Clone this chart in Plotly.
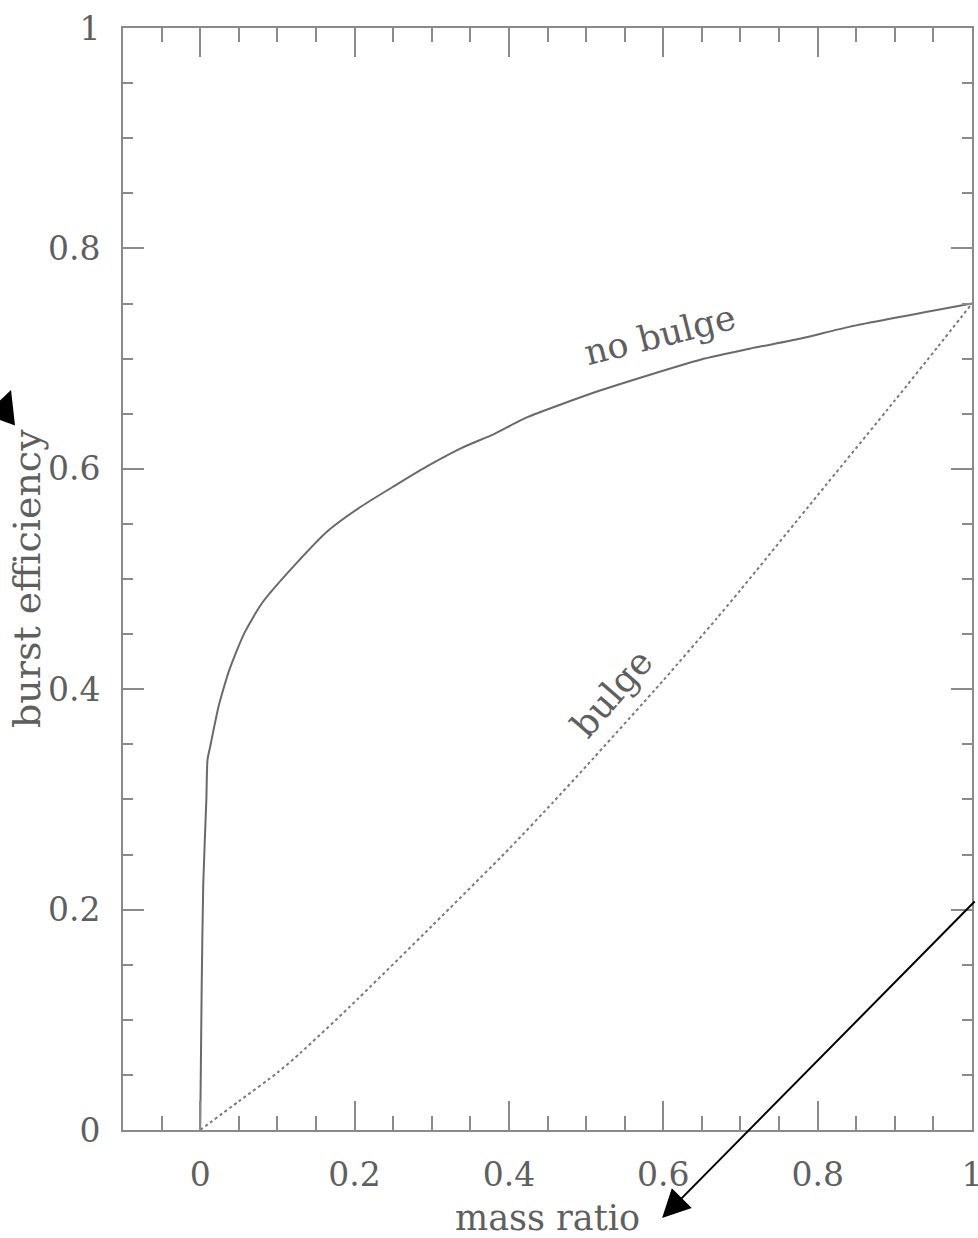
import plotly.graph_objects as go

# Burst efficiency versus merger mass ratio
nobulge_x = [0, 0.002, 0.004, 0.008, 0.0095, 0.013, 0.017, 0.024, 0.030, 0.037,
             0.048, 0.058, 0.080, 0.123, 0.166, 0.209, 0.253, 0.296, 0.339,
             0.382, 0.421, 0.518, 0.648, 0.712, 0.777, 0.842, 1.0]
nobulge_y = [0, 0.133, 0.224, 0.300, 0.336, 0.348, 0.362, 0.385, 0.400, 0.416,
             0.436, 0.452, 0.478, 0.513, 0.544, 0.566, 0.585, 0.603, 0.619,
             0.632, 0.646, 0.671, 0.699, 0.709, 0.718, 0.729, 0.750]

bulge_x = [0, 0.05, 0.1, 0.13, 0.194, 0.3, 0.4, 0.458, 0.5, 0.6, 0.669, 0.7,
           0.8, 0.9, 0.956, 1.0]
bulge_y = [0, 0.026, 0.052, 0.070, 0.112, 0.185, 0.255, 0.298, 0.330, 0.408,
           0.464, 0.490, 0.576, 0.662, 0.711, 0.750]

x_ticks = [0, 0.2, 0.4, 0.6, 0.8, 1]
x_tick_text = ["0", "0.2", "0.4", "0.6", "0.8", "1"]
y_ticks = [0, 0.2, 0.4, 0.6, 0.8, 1]
y_tick_text = ["0", "0.2", "0.4", "0.6", "0.8", "1"]

FONT = "DejaVu Serif"
AXIS_GREY = "#8a8a8a"
TEXT_GREY = "#5f5f5f"

fig = go.Figure()
fig.add_trace(go.Scatter(x=nobulge_x, y=nobulge_y, mode="lines",
                         line=dict(color="#6a6a6a", width=2,
                                   shape="spline", smoothing=0.6),
                         showlegend=False, hoverinfo="skip"))
fig.add_trace(go.Scatter(x=bulge_x, y=bulge_y, mode="lines",
                         line=dict(color="#7a7a7a", width=2, dash="dot",
                                   shape="spline", smoothing=0.6),
                         showlegend=False, hoverinfo="skip"))

axis_common = dict(showline=True, linecolor=AXIS_GREY, linewidth=2,
                   mirror="allticks", ticks="inside", tickcolor=AXIS_GREY,
                   tickwidth=1.5, showgrid=False, zeroline=False,
                   ticklabeloverflow="allow", automargin=False,
                   tickfont=dict(family=FONT, size=33, color=TEXT_GREY))

fig.update_xaxes(range=[-0.1, 1], tickvals=x_ticks, ticktext=x_tick_text,
                 ticklen=29, ticklabelstandoff=14,
                 minor=dict(dtick=0.05, tick0=0, ticks="inside", ticklen=14,
                            tickcolor=AXIS_GREY, tickwidth=1.5, showgrid=False),
                 **axis_common)
fig.update_yaxes(range=[0, 1], tickvals=y_ticks, ticktext=y_tick_text,
                 ticklen=21, ticklabelstandoff=14,
                 minor=dict(dtick=0.05, tick0=0, ticks="inside", ticklen=10,
                            tickcolor=AXIS_GREY, tickwidth=1.5, showgrid=False),
                 **axis_common)

annotations = [
    dict(text="no bulge", x=0.596, y=0.721, xref="x", yref="y",
         textangle=-14, showarrow=False,
         font=dict(family=FONT, size=35, color=TEXT_GREY)),
    dict(text="bulge", x=0.533, y=0.396, xref="x", yref="y",
         textangle=-49, showarrow=False,
         font=dict(family=FONT, size=36, color=TEXT_GREY)),
    dict(text="mass ratio", x=0.5, y=0, xref="paper", yref="paper",
         xanchor="center", yanchor="middle", yshift=-88, showarrow=False,
         font=dict(family=FONT, size=35, color=TEXT_GREY)),
    dict(text="burst efficiency", x=0, y=0.5, xref="paper", yref="paper",
         xanchor="center", yanchor="middle", xshift=-96, textangle=-90,
         showarrow=False,
         font=dict(family=FONT, size=38, color=TEXT_GREY)),
    # pointer towards the x-axis title
    dict(text="", x=0.635, y=-0.0799, xref="paper", yref="paper",
         showarrow=True, arrowhead=2, arrowsize=2.8, arrowwidth=2,
         arrowcolor="black", ax=314, ay=-318),
    # pointer towards the y-axis title, mostly beyond the left edge
    dict(text="", x=-0.1319, y=0.6715, xref="paper", yref="paper",
         showarrow=True, arrowhead=2, arrowsize=3.2, arrowwidth=2,
         arrowcolor="black", ax=-70, ay=30),
]

fig.update_layout(width=978, height=1238,
                  margin=dict(l=123, r=6, t=28, b=108),
                  paper_bgcolor="white", plot_bgcolor="white",
                  annotations=annotations)

fig.write_html("out.html")
